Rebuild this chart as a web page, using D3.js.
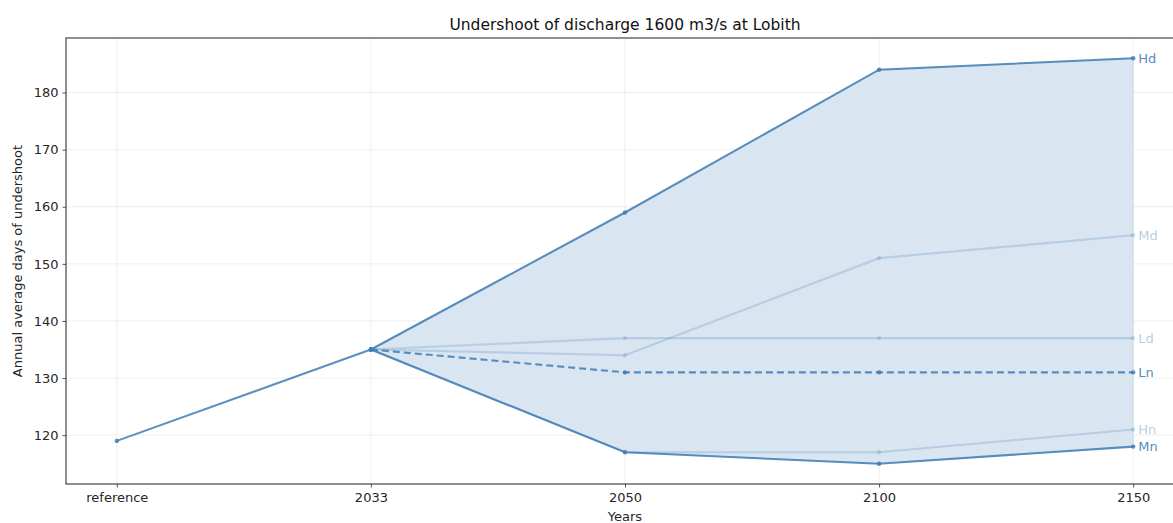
<!DOCTYPE html>
<html>
<head>
<meta charset="utf-8">
<script src="https://cdn.jsdelivr.net/npm/d3@7"></script>
<style>
  html, body { margin: 0; padding: 0; background: #fff; }
  svg { display: block; font-family: "DejaVu Sans", sans-serif; }
</style>
</head>
<body>
<svg id="chart" width="1173" height="523"></svg>
<script>
// Periods on the horizontal axis
const periods = ["reference", "2033", "2050", "2100", "2150"];

// Common start: reference period and 2033
const baseValues = [119, 135];

// Scenario names and their days of undershoot for 2033, 2050, 2100, 2150
const scenarioNames = ["Hd", "Md", "Ld", "Ln", "Hn", "Mn"];
const hdValues = [135, 159, 184, 186];
const mdValues = [135, 134, 151, 155];
const ldValues = [135, 137, 137, 137];
const lnValues = [135, 131, 131, 131];
const hnValues = [135, 117, 117, 121];
const mnValues = [135, 117, 115, 118];

// Y tick labels
const yTicks = [120, 130, 140, 150, 160, 170, 180];

const scenarios = [
  { name: "Hd", values: hdValues, strong: true, dashed: false },
  { name: "Md", values: mdValues, strong: false, dashed: false },
  { name: "Ld", values: ldValues, strong: false, dashed: false },
  { name: "Ln", values: lnValues, strong: true, dashed: true },
  { name: "Hn", values: hnValues, strong: false, dashed: false },
  { name: "Mn", values: mnValues, strong: true, dashed: false }
];

const svg = d3.select("#chart");
const m = { left: 66, top: 38, right: 1184, bottom: 484 };

const x = d3.scaleLinear().domain([-0.2, periods.length - 1 + 0.2]).range([m.left, m.right]);
const allVals = baseValues.concat(...scenarios.map(s => s.values));
const lo = d3.min(allVals), hi = d3.max(allVals), pad = (hi - lo) * 0.05;
const y = d3.scaleLinear().domain([lo - pad, hi + pad]).range([m.bottom, m.top]);

const lineColor = "#3f7db5";
const fillColor = "#d9e5f0";
const textColor = "#262626";

svg.append("defs").append("clipPath").attr("id", "plotClip")
  .append("rect").attr("x", m.left).attr("y", m.top)
  .attr("width", m.right - m.left).attr("height", m.bottom - m.top);

const plot = svg.append("g").attr("clip-path", "url(#plotClip)");

// Grid
plot.append("g").selectAll("line.gy").data(yTicks).join("line")
  .attr("x1", m.left).attr("x2", m.right)
  .attr("y1", d => y(d)).attr("y2", d => y(d))
  .attr("stroke", "#b0b0b0").attr("stroke-opacity", 0.25).attr("stroke-width", 0.8);
plot.append("g").selectAll("line.gx").data(periods).join("line")
  .attr("x1", (d, i) => x(i)).attr("x2", (d, i) => x(i))
  .attr("y1", m.top).attr("y2", m.bottom)
  .attr("stroke", "#b0b0b0").attr("stroke-opacity", 0.25).attr("stroke-width", 0.8);

// Band between the lowest and highest scenario
const band = d3.range(scenarios[0].values.length).map(j => ({
  i: j + 1,
  min: d3.min(scenarios, s => s.values[j]),
  max: d3.max(scenarios, s => s.values[j])
}));
plot.append("path").datum(band)
  .attr("d", d3.area().x(d => x(d.i)).y0(d => y(d.min)).y1(d => y(d.max)))
  .attr("fill", fillColor).attr("fill-opacity", 1)
  .attr("stroke", lineColor).attr("stroke-opacity", 0.15);

const line = d3.line().x(d => x(d.i)).y(d => y(d.v));

// Scenario lines (faint first, strong on top)
const order = scenarios.filter(s => !s.strong).concat(scenarios.filter(s => s.strong));
order.forEach(s => {
  const pts = s.values.map((v, j) => ({ i: j + 1, v }));
  const op = s.strong ? 0.85 : 0.22;
  plot.append("path").datum(pts)
    .attr("d", line).attr("fill", "none")
    .attr("stroke", lineColor).attr("stroke-opacity", op)
    .attr("stroke-width", 2.1)
    .attr("stroke-dasharray", s.dashed ? "7,4" : null);
  plot.append("g").selectAll("circle").data(pts).join("circle")
    .attr("cx", d => x(d.i)).attr("cy", d => y(d.v)).attr("r", 2.2)
    .attr("fill", lineColor).attr("fill-opacity", op);
});

// Common part: reference to 2033
const basePts = baseValues.map((v, i) => ({ i, v }));
plot.append("path").datum(basePts)
  .attr("d", line).attr("fill", "none")
  .attr("stroke", lineColor).attr("stroke-opacity", 0.85).attr("stroke-width", 2.1);
plot.append("g").selectAll("circle").data(basePts).join("circle")
  .attr("cx", d => x(d.i)).attr("cy", d => y(d.v)).attr("r", 2.2)
  .attr("fill", lineColor).attr("fill-opacity", 0.85);

// End labels
const last = periods.length - 1;
svg.append("g").selectAll("text").data(scenarios).join("text")
  .attr("x", x(last) + 5).attr("y", s => y(s.values[s.values.length - 1]))
  .attr("dy", "0.35em").attr("font-size", 13)
  .attr("fill", lineColor).attr("fill-opacity", s => s.strong ? 0.9 : 0.4)
  .text(s => s.name);

// Axes
const yAxis = svg.append("g").attr("transform", `translate(${m.left},0)`)
  .call(d3.axisLeft(y).tickValues(yTicks).tickSize(3.5).tickPadding(4));
const xAxis = svg.append("g").attr("transform", `translate(0,${m.bottom})`)
  .call(d3.axisBottom(x).tickValues(d3.range(periods.length)).tickFormat(i => periods[i]).tickSize(3.5).tickPadding(5.5));
[yAxis, xAxis].forEach(a => {
  a.select(".domain").remove();
  a.selectAll("line").attr("stroke", textColor).attr("stroke-width", 0.8);
  a.selectAll("text").attr("fill", textColor).attr("font-size", 13)
    .attr("font-family", "DejaVu Sans, sans-serif");
});

// Spines
svg.append("rect").attr("x", m.left).attr("y", m.top)
  .attr("width", m.right - m.left).attr("height", m.bottom - m.top)
  .attr("fill", "none").attr("stroke", "#333").attr("stroke-width", 1.1);

// Title and axis labels
svg.append("text").attr("x", (m.left + m.right) / 2).attr("y", 29.5)
  .attr("text-anchor", "middle").attr("font-size", 15.5).attr("fill", "#111")
  .text("Undershoot of discharge 1600 m3/s at Lobith");
svg.append("text").attr("x", (m.left + m.right) / 2).attr("y", 521)
  .attr("text-anchor", "middle").attr("font-size", 13).attr("fill", textColor)
  .text("Years");
svg.append("text")
  .attr("transform", `translate(22,${(m.top + m.bottom) / 2}) rotate(-90)`)
  .attr("text-anchor", "middle").attr("font-size", 13).attr("fill", textColor)
  .text("Annual average days of undershoot");
</script>
</body>
</html>
